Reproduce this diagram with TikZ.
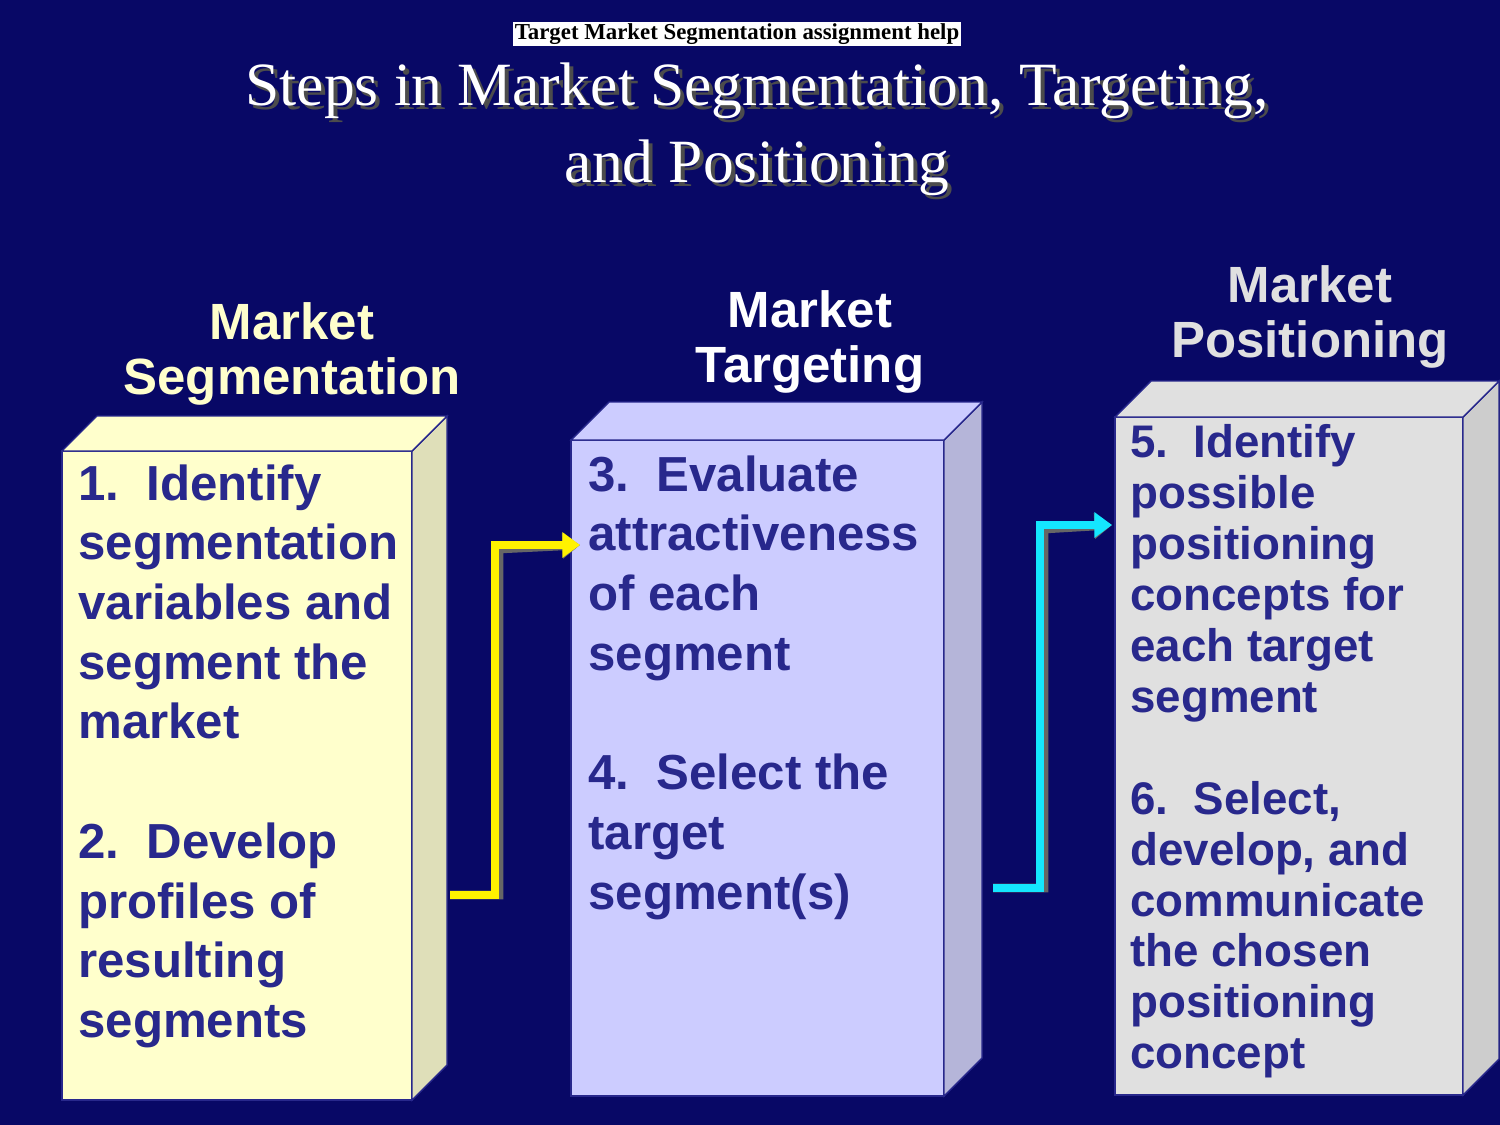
\documentclass[tikz,border=0pt]{standalone}
\usepackage{fontspec}
\setmainfont{Liberation Serif}
\setsansfont{Liberation Sans}
\usetikzlibrary{positioning}
\usetikzlibrary{calc}
\usetikzlibrary{arrows.meta}
\definecolor{slide}{RGB}{8,8,102}
\definecolor{ink}{RGB}{40,40,140}
\definecolor{paleyellow}{RGB}{255,255,204}
\definecolor{lavender}{RGB}{204,204,255}
\definecolor{lightgrey}{RGB}{224,224,224}
\definecolor{brightcyan}{RGB}{20,230,255}
% box: front, side, top
\newcommand\slab[7]{%
  \filldraw[draw=ink, thick, fill=#6] (#1,#2) rectangle (#3,#4);
  \filldraw[draw=ink, thick, fill=#7] (#3,#2) -- ++(#5,-#5) -- ++(0,#4-#2) -- (#3,#4) -- cycle;
  \filldraw[draw=ink, thick, fill=#6] (#1,#2) -- ++(#5,-#5) -- ++(#3-#1,0) -- (#3,#2) -- cycle;}
\begin{document}
\begin{tikzpicture}[x=0.02cm, y=-0.02cm,
    head/.style={font=\sffamily\bfseries\fontsize{29}{31}\selectfont, align=center},
    body/.style={font=\sffamily\bfseries\fontsize{28}{34}\selectfont, text=ink, align=left, anchor=north west, inner sep=0pt},
    arrow/.style={line width=5pt, -{Triangle[length=10pt,width=14pt]}}]
\useasboundingbox (0,0) rectangle (1500,1125);
\fill[slide] (0,0) rectangle (1500,1125);
\slab{62}{451}{412}{1100}{35}{paleyellow}{paleyellow!75!gray}
\slab{571}{440}{944}{1096}{38}{lavender}{lavender!70!gray}
\slab{1115}{417}{1463}{1095}{36}{lightgrey}{lightgrey!80!gray}

\node[fill=white, inner sep=1pt, font=\bfseries\fontsize{13}{15}\selectfont] (tag) at (737,34) {Target Market Segmentation assignment help};
\node[font=\fontsize{35}{44}\selectfont, text=black!70, align=center] (shadow) at (761,133) {Steps in Market Segmentation, Targeting,\\and Positioning};
\node[font=\fontsize{35}{44}\selectfont, text=white, align=center] (title) at (757,129) {Steps in Market Segmentation, Targeting,\\and Positioning};

\node[head, text=paleyellow] (segh) at (292,354) {Market\\Segmentation};
\node[head, text=white] (targh) at (810,342) {Market\\Targeting};
\node[head, text=lightgrey] (posh) at (1310,317) {Market\\Positioning};

\node[body] (seg) at (78,464) {1.\ \ Identify\\segmentation\\variables and\\segment the\\market\\[\baselineskip]2.\ \ Develop\\profiles of\\resulting\\segments};
\node[body] (targ) at (588,455) {3.\ \ Evaluate\\attractiveness\\of each\\segment\\[\baselineskip]4.\ \ Select the\\target\\segment(s)};
\node[body, font=\sffamily\bfseries\fontsize{26}{29}\selectfont] (pos) at (1130,424) {5.\ \ Identify\\possible\\positioning\\concepts for\\each target\\segment\\[\baselineskip]6.\ \ Select,\\develop, and\\communicate\\the chosen\\positioning\\concept};

\coordinate (a1) at (450,895);
\coordinate (a2) at (580,545);
\coordinate (b1) at (993,888);
\coordinate (b2) at (1112,525);
\draw[arrow, black!60, shift={(4,4)}] (a1) -| (495,545) -- (a2);
\draw[arrow, yellow] (a1) -| (495,545) -- (a2);
\draw[arrow, black!60, shift={(4,4)}] (b1) -| (1040,525) -- (b2);
\draw[arrow, brightcyan] (b1) -| (1040,525) -- (b2);
\end{tikzpicture}
\end{document}
